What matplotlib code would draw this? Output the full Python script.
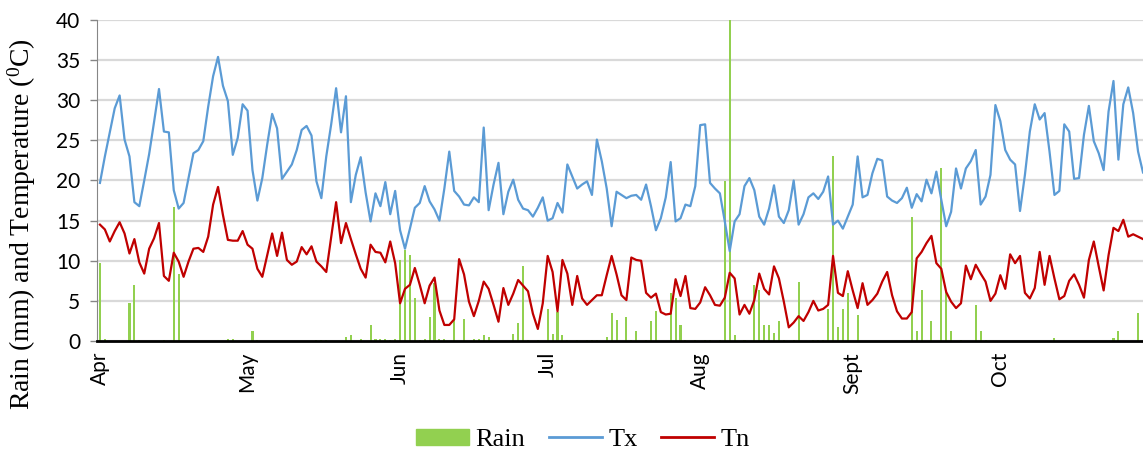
import matplotlib
matplotlib.use("Agg")
import matplotlib.pyplot as plt
import numpy as np
from matplotlib.patches import Patch
from matplotlib.lines import Line2D

# daily series, 1 Apr .. 31 Oct (day index from 1 Apr)
tx = [19.7, 23, 26, 29, 30.6, 25.1, 23, 17.3, 16.8, 20, 23.3, 27.3, 31.4, 26.1, 26, 18.8,
      16.5, 17.2, 20.3, 23.4, 23.8, 24.9, 29.2, 33, 35.4, 31.8, 29.9, 23.2, 25.3, 29.5,
      28.7, 21.3, 17.5, 20.3, 24.5, 28.3, 26.5, 20.2, 21.1, 22, 23.8, 26.3, 26.8, 25.6,
      19.9, 17.8, 23, 27, 31.5, 26, 30.5, 17.3, 20.7, 22.9, 18.5, 14.9, 18.4, 16.8, 19.8,
      15.8, 18.7, 13.8, 11.5, 14, 16.6, 17.2, 19.3, 17.4, 16.4, 15, 19, 23.6, 18.7, 18,
      17, 16.9, 17.9, 17.3, 26.6, 16.3, 19.5, 22.2, 15.8, 18.6, 20.1, 17.6, 16.5, 16.3,
      15.5, 16.6, 17.9, 15, 15.3, 17.2, 16, 22, 20.5, 19, 19.5, 19.9, 18.2, 25.1, 22.4,
      19, 14.3, 18.6, 18.2, 17.8, 18.1, 18.2, 17.6, 19.5, 16.8, 13.8, 15.3, 17.9, 22.3,
      14.9, 15.3, 17, 16.8, 19.3, 26.9, 27, 19.7, 19, 18.4, 14.9, 11.2, 14.9, 15.8, 19.3,
      20.3, 18.8, 15.5, 14.5, 16.5, 19.4, 15.5, 14.7, 16.3, 20, 14.5, 15.8, 17.9, 18.4,
      17.7, 18.6, 20.5, 14.5, 15, 14, 15.5, 17, 23, 17.9, 18.2, 20.9, 22.7, 22.5, 18,
      17.5, 17.2, 17.8, 19.1, 16.6, 18.3, 17.4, 20.1, 18.4, 21.1, 17.6, 14.3, 16.1, 21.5,
      19, 21.5, 22.4, 23.8, 17, 18, 20.7, 29.4, 27.4, 23.8, 22.6, 22, 16.2, 20.7, 26.1,
      29.5, 27.6, 28.4, 23.6, 18.2, 18.7, 27, 26.1, 20.2, 20.3, 25.7, 29.3, 24.9, 23.4,
      21.3, 28.6, 32.4, 22.6, 29.5, 31.6, 28.4, 23.6, 21]

tn = [14.5, 13.9, 12.4, 13.7, 14.8, 13.4, 10.9, 12.7, 9.8, 8.4, 11.5, 12.8, 14.7, 8.1, 7.5,
      11, 9.9, 8, 9.9, 11.5, 11.6, 11.1, 13, 17, 19.2, 15.7, 12.6, 12.5, 12.5, 13.7, 12,
      11.5, 9, 8, 10.7, 13.4, 10.6, 13.5, 10.1, 9.5, 9.9, 11.7, 10.8, 11.8, 9.9, 9.3, 8.6,
      13, 17.3, 12.2, 14.7, 12.7, 10.8, 9, 7.9, 12, 11.1, 11, 9.8, 12.4, 9.7, 4.7, 6.5, 7,
      9.1, 7, 4.7, 6.9, 7.9, 3.8, 2, 2, 2.7, 10.2, 8.3, 4.9, 3.1, 5, 7.4, 6.5, 4.5, 2.4,
      6.6, 4.5, 5.9, 7.6, 6.9, 6.2, 3.4, 1.5, 4.7, 10.6, 8.6, 3.7, 10.1, 8.4, 4.5, 8.1,
      5.3, 4.5, 5.1, 5.7, 5.7, 8.2, 10.6, 8.3, 5.7, 5.1, 10.4, 10.1, 10, 6, 5.4, 5.9, 3.6,
      3.3, 3.4, 7.7, 5.6, 8.1, 4.1, 4, 4.8, 6.7, 5.7, 4.5, 4.4, 5.4, 8.5, 7.8, 3.3, 4.5,
      3.4, 5.1, 8.4, 6.5, 5.8, 9.3, 7.8, 4.9, 1.7, 2.3, 3.1, 2.5, 3.6, 5, 3.8, 4, 4.5,
      10.6, 6, 5.6, 8.7, 6.3, 4.1, 7.2, 4.5, 5.1, 5.9, 7.4, 8.6, 5.7, 3.7, 2.8, 2.8, 3.6,
      10.3, 11.1, 12.2, 13.1, 9.7, 9, 6.1, 4.9, 4.1, 4.7, 9.4, 7.7, 9.5, 8.4, 7.4, 5, 5.9,
      8.2, 6.5, 10.8, 9.7, 10.6, 6, 5.3, 6.6, 11.1, 7, 10.6, 7.8, 5.2, 5.6, 7.5, 8.3, 7,
      5.4, 10.1, 12.4, 9.3, 6.3, 10.7, 14.1, 13.7, 15.1, 13, 13.3, 13, 12.7]

# rain: days with a recorded amount (day index from 1 Apr) and mm
rain_day = [0, 1, 6, 7, 8, 13, 15, 16, 26, 27, 31, 32, 44, 45, 46, 50, 51, 53, 55, 56, 57,
            58, 59, 60, 61, 62, 63, 64, 65, 66, 67, 68, 69, 70, 72, 74, 76, 77, 78, 79, 84,
            85, 86, 87, 89, 91, 92, 93, 94, 95, 97, 99, 100, 101, 103, 104, 105, 107, 108,
            109, 111, 112, 113, 116, 117, 118, 119, 121, 123, 124, 126, 127, 128, 129, 131,
            133, 134, 135, 136, 137, 138, 139, 141, 142, 145, 146, 147, 148, 149, 150, 151,
            152, 154, 165, 166, 167, 169, 171, 172, 173, 175, 178, 179, 180, 194, 206, 207,
            211]
rain_mm = [9.7, 0.3, 4.7, 7, 0.1, 0.1, 16.7, 8.3, 0.2, 0.2, 1.3, 0.1, 0.1, 0.1, 0.1, 0.5,
           0.8, 0.3, 2, 0.3, 0.2, 0.3, 0.1, 0.3, 10.1, 11.3, 10.7, 5.3, 0.1, 0.2, 3, 7.2,
           0.2, 0.2, 2.6, 2.7, 0.2, 0.2, 0.7, 0.5, 0.9, 2.2, 9.4, 0.1, 0.1, 4, 0.9, 3.6, 0.7,
           0.1, 0.1, 0.1, 0.1, 0.1, 0.5, 3.5, 2.6, 3, 0.1, 1.2, 0.1, 2.5, 3.8, 6, 5.4, 2, 0.1,
           0.1, 0.1, 0.1, 0.1, 19.9, 40, 0.7, 0.1, 7, 6.3, 2, 2, 1, 2.5, 0.1, 0.1, 7.3, 0.1,
           0.1, 0.1, 4, 23, 1.75, 4, 6, 3.2, 15.5, 1.2, 6.3, 2.5, 21.5, 6.1, 1.2, 0.1, 4.5,
           1.2, 0.1, 0.4, 0.4, 1.2, 3.5]

months = ["Apr", "May", "Jun", "Jul", "Aug", "Sept", "Oct"]
month_start = [0, 30, 61, 91, 122, 153, 183]

days = np.arange(len(tx))

fig = plt.figure(figsize=(11.43, 4.54), dpi=100)
ax = fig.add_axes([97 / 1143, 113 / 454, 1 - 97 / 1143, 321 / 454])

ax.bar(rain_day, rain_mm, width=0.42, color="#92d050", zorder=2)
ax.plot(days, tx, color="#5b9bd5", lw=1.6, zorder=3)
ax.plot(days, tn, color="#c00000", lw=1.6, zorder=4)

ax.set_ylim(0, 40)
ax.set_yticks(range(0, 41, 5))
ax.set_xlim(-0.6, 212)
ax.set_xticks(month_start)
ax.set_xticklabels(months, rotation=90, fontsize=15, family="Lato")
ax.tick_params(axis="x", length=0, pad=8)
ax.tick_params(axis="y", length=5, width=1, color="#868686", pad=7, labelsize=15)
for lab in ax.get_yticklabels():
    lab.set_family("Lato")

ax.grid(axis="y", color="#d9d9d9", lw=1.6, zorder=0)
ax.set_axisbelow(True)
for s in ["top", "right"]:
    ax.spines[s].set_visible(False)
ax.spines["left"].set_color("#868686")
ax.spines["bottom"].set_color("black")
ax.spines["bottom"].set_linewidth(2)
ax.spines["bottom"].set_zorder(5)

fig.text(22 / 1143, 1 - 224 / 454, "Rain (mm) and Temperature ($\\mathregular{^0}$C)",
         rotation=90, ha="center", va="center", fontsize=20, family="Liberation Serif")

handles = [Patch(color="#92d050"),
           Line2D([], [], color="#5b9bd5", lw=2),
           Line2D([], [], color="#c00000", lw=2)]
fig.legend(handles, ["Rain", "Tx", "Tn"], loc="center", bbox_to_anchor=(0.51, 0.031),
           ncol=3, frameon=False, handlelength=2.0, handleheight=0.55, handletextpad=0.25,
           columnspacing=0.9, prop={"family": "Liberation Serif", "size": 19})

fig.savefig("out.png", dpi=100)
